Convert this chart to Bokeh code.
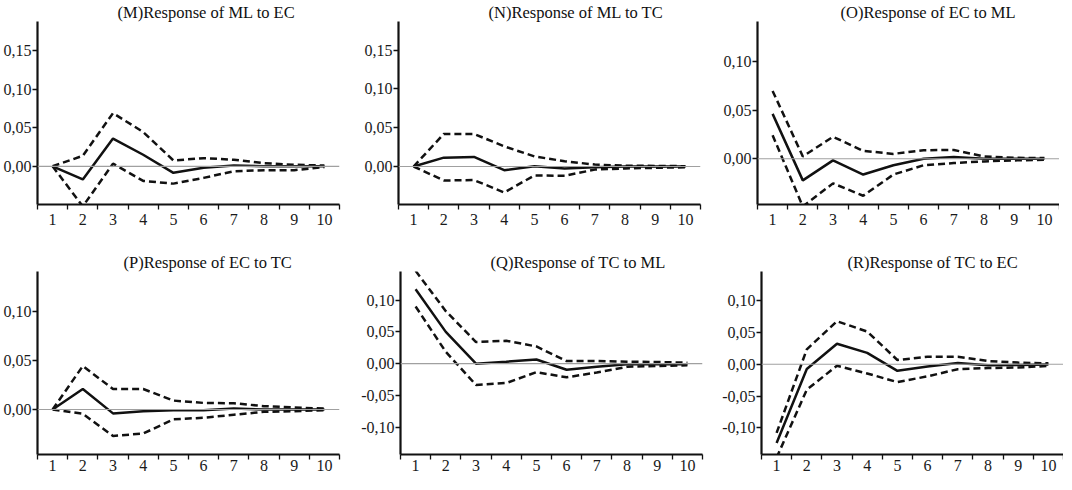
from bokeh.plotting import figure
from bokeh.layouts import column, row
from bokeh.models import FixedTicker, CustomJSTickFormatter, Span, Range1d
from bokeh.embed import file_html
from bokeh.resources import INLINE

periods = [1, 2, 3, 4, 5, 6, 7, 8, 9, 10]

# (M) Response of ML to EC
m_irf = [0.0, -0.017, 0.036, 0.015, -0.0085, -0.002, 0.001, 0.0, 0.0, 0.0]
m_hi = [0.0, 0.0136, 0.069, 0.0445, 0.0076, 0.0106, 0.0085, 0.004, 0.002, 0.001]
m_lo = [0.0, -0.052, 0.0034, -0.019, -0.0225, -0.015, -0.0064, -0.005, -0.005, -0.001]

# (N) Response of ML to TC
n_irf = [0.0, 0.0114, 0.0123, -0.0047, 0.0004, -0.0025, -0.001, 0.0, 0.0, 0.0]
n_hi = [0.0, 0.042, 0.042, 0.026, 0.013, 0.0068, 0.0025, 0.001, 0.0008, 0.0004]
n_lo = [0.0, -0.018, -0.0175, -0.0335, -0.0115, -0.012, -0.004, -0.0025, -0.0017, -0.001]

# (O) Response of EC to ML
o_irf = [0.0461, -0.0222, -0.0017, -0.0162, -0.0067, 0.0, 0.0017, 0.0, 0.0, 0.0]
o_hi = [0.0697, 0.0024, 0.0226, 0.0081, 0.005, 0.0088, 0.009, 0.0024, 0.001, 0.0007]
o_lo = [0.0242, -0.049, -0.0253, -0.038, -0.0162, -0.0067, -0.0044, -0.0027, -0.0017, -0.001]

# (P) Response of EC to TC
p_irf = [0.0, 0.0209, -0.004, -0.0017, -0.0007, -0.0007, 0.001, 0.0, 0.0, 0.0]
p_hi = [0.0, 0.0444, 0.0209, 0.0209, 0.0091, 0.0067, 0.0064, 0.0034, 0.002, 0.001]
p_lo = [0.0, -0.0044, -0.027, -0.0246, -0.0101, -0.0084, -0.0054, -0.0024, -0.0017, -0.0007]

# (Q) Response of TC to ML
q_irf = [0.117, 0.050, 0.0, 0.003, 0.0065, -0.0097, -0.005, -0.001, -0.001, -0.001]
q_hi = [0.146, 0.0826, 0.034, 0.036, 0.027, 0.0041, 0.0041, 0.003, 0.0026, 0.0015]
q_lo = [0.090, 0.0185, -0.0335, -0.0305, -0.0135, -0.0215, -0.014, -0.005, -0.0036, -0.0026]

# (R) Response of TC to EC
r_irf = [-0.124, -0.0075, 0.0323, 0.018, -0.0103, -0.0036, 0.002, -0.0015, -0.001, -0.0005]
r_hi = [-0.108, 0.0235, 0.0677, 0.0515, 0.0067, 0.0118, 0.0118, 0.0051, 0.0026, 0.0015]
r_lo = [-0.147, -0.040, -0.0022, -0.0145, -0.028, -0.019, -0.0077, -0.006, -0.005, -0.0026]

titles = ["(M)Response of ML to EC", "(N)Response of ML to TC", "(O)Response of EC to ML",
          "(P)Response of EC to TC", "(Q)Response of TC to ML", "(R)Response of TC to EC"]
y_ranges = [(-0.0496, 0.188), (-0.049, 0.187), (-0.047, 0.141),
            (-0.046, 0.141), (-0.143, 0.145), (-0.142, 0.146)]
y_ticks = [[0.0, 0.05, 0.10, 0.15], [0.0, 0.05, 0.10, 0.15], [0.0, 0.05, 0.10],
           [0.0, 0.05, 0.10], [-0.10, -0.05, 0.0, 0.05, 0.10], [-0.10, -0.05, 0.0, 0.05, 0.10]]
series = [(m_irf, m_lo, m_hi), (n_irf, n_lo, n_hi), (o_irf, o_lo, o_hi),
          (p_irf, p_lo, p_hi), (q_irf, q_lo, q_hi), (r_irf, r_lo, r_hi)]

x_minor = [0.5 + i for i in range(11)]

FONT = "Liberation Serif"
FRAME_W = 302
FRAME_H = 183

# borders (left, right, top, bottom), title offset, x label standoff
col_lr = [(34, 19), (40, 17), (40, 0)]
row_tb = [(19, 40, 4), (27, 22, 0)]
title_off = [80, 90, 83, 86, 90, 86]

figs = []
for i in range(6):
    r, c = divmod(i, 3)
    bl, br = col_lr[c]
    bt, bb, xstand = row_tb[r]
    irf, lo, hi = series[i]
    p = figure(frame_width=FRAME_W, frame_height=FRAME_H,
               output_backend="svg", toolbar_location=None,
               x_range=Range1d(0.5, 10.5), y_range=Range1d(*y_ranges[i]),
               title=titles[i],
               min_border_left=bl, min_border_right=br,
               min_border_top=bt, min_border_bottom=bb)
    p.outline_line_color = None
    p.grid.visible = False
    p.background_fill_color = "white"
    p.border_fill_color = "white"

    p.title.align = "left"
    p.title.offset = title_off[i]
    p.title.text_font = FONT
    p.title.text_font_size = "16.5px"
    p.title.text_font_style = "normal"
    p.title.text_color = "#111111"
    p.title.standoff = 0

    p.add_layout(Span(location=0, dimension="width", line_color="#a0a0a0", line_width=1.2))

    p.line(periods, lo, line_color="#111111", line_width=2.5, line_dash="7 4")
    p.line(periods, hi, line_color="#111111", line_width=2.5, line_dash="7 4")
    p.line(periods, irf, line_color="#111111", line_width=2.5)

    xa = p.xaxis[0]
    xa.ticker = FixedTicker(ticks=periods, minor_ticks=x_minor)
    xa.major_tick_out = 0
    xa.major_tick_in = 0
    xa.minor_tick_out = 5
    xa.minor_tick_in = 0
    xa.minor_tick_line_color = "#111111"
    xa.minor_tick_line_width = 1.3
    xa.axis_line_color = "#111111"
    xa.axis_line_width = 2.2
    xa.major_label_text_font = FONT
    xa.major_label_text_font_size = "16px"
    xa.major_label_text_color = "#1a1a1a"
    xa.major_label_standoff = xstand

    ya = p.yaxis[0]
    ya.ticker = FixedTicker(ticks=y_ticks[i], minor_ticks=[])
    ya.formatter = CustomJSTickFormatter(code="return tick.toFixed(2).replace('.', ',');")
    ya.major_tick_out = 5
    ya.major_tick_in = 0
    ya.major_tick_line_color = "#111111"
    ya.major_tick_line_width = 1.3
    ya.minor_tick_out = 0
    ya.minor_tick_in = 0
    ya.axis_line_color = "#111111"
    ya.axis_line_width = 2.2
    ya.major_label_text_font = FONT
    ya.major_label_text_font_size = "16px"
    ya.major_label_text_color = "#1a1a1a"
    ya.major_label_standoff = 1
    figs.append(p)

layout = column(row(figs[0], figs[1], figs[2]), row(figs[3], figs[4], figs[5]))

open("out.html", "w").write(file_html(layout, INLINE))
